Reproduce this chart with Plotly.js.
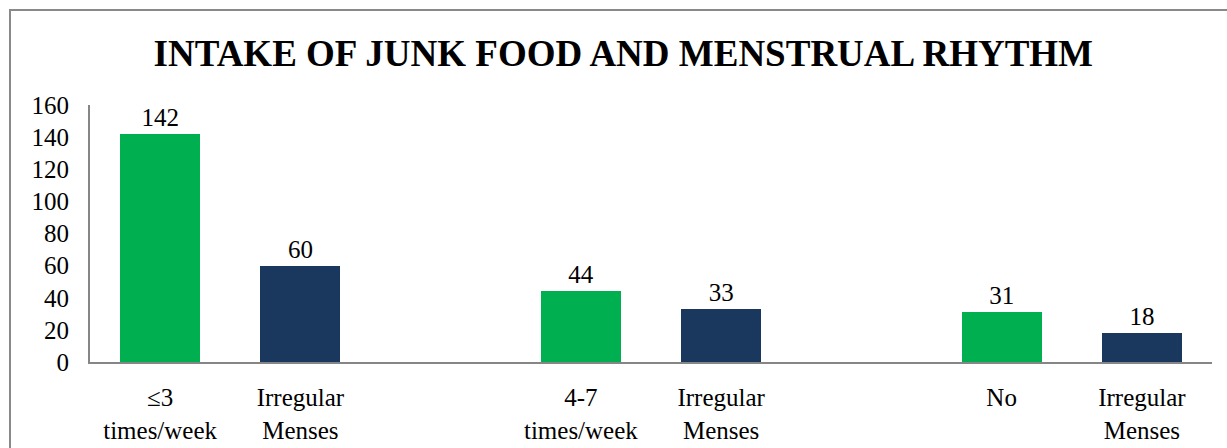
<!DOCTYPE html>
<html>
<head>
<meta charset="utf-8">
<script src="https://cdn.plot.ly/plotly-3.0.1.min.js"></script>
<style>
  html, body { margin: 0; padding: 0; background: #ffffff; }
  #wrap { position: relative; width: 1227px; height: 448px; overflow: hidden; }
  #chart { position: absolute; left: 0; top: 0; width: 1227px; height: 448px; }
  #frame { position: absolute; left: 9px; top: 9px; width: 1230px; height: 450px;
           border-left: 2px solid #898989; border-top: 2px solid #898989; pointer-events: none; }
</style>
</head>
<body>
<div id="wrap">
  <div id="chart"></div>
  <div id="frame"></div>
</div>
<script>
// Data
const groupLabels = ['≤3<br>times/week', '4-7<br>times/week', 'No'];
const irregularLabel = 'Irregular<br>Menses';
const intakeCounts = [142, 44, 31];
const irregularCounts = [60, 33, 18];

const GREEN = '#00B050';
const NAVY = '#1A375E';
const FONT = 'Liberation Serif';

// each group occupies 3 slots: intake bar, irregular bar, empty gap
const intakeX = groupLabels.map((_, i) => i * 3);
const irregX = groupLabels.map((_, i) => i * 3 + 1);

const tickvals = [];
const ticktext = [];
groupLabels.forEach((g, i) => {
  tickvals.push(intakeX[i], irregX[i]);
  ticktext.push(g, irregularLabel);
});

const common = {
  type: 'bar',
  width: 0.57,
  textposition: 'outside',
  cliponaxis: false,
  textfont: { family: FONT, size: 25, color: '#000000' },
  hoverinfo: 'skip',
  showlegend: false
};

const traces = [
  Object.assign({}, common, {
    x: intakeX, y: intakeCounts, text: intakeCounts.map(String),
    marker: { color: GREEN }
  }),
  Object.assign({}, common, {
    x: irregX, y: irregularCounts, text: irregularCounts.map(String),
    marker: { color: NAVY }
  })
];

const layout = {
  width: 1227,
  height: 448,
  margin: { l: 90, r: 15, t: 105, b: 86, pad: 0 },
  paper_bgcolor: 'rgba(0,0,0,0)',
  plot_bgcolor: 'rgba(0,0,0,0)',
  font: { family: FONT, color: '#000000', size: 25 },
  title: {
    text: '<b>INTAKE OF JUNK FOOD AND MENSTRUAL RHYTHM</b>',
    font: { family: FONT, size: 37, color: '#000000' },
    x: 0.508, xref: 'container', xanchor: 'center',
    y: 1 - 53 / 448, yref: 'container', yanchor: 'middle'
  },
  xaxis: {
    range: [-0.5, 7.5],
    tickvals: tickvals,
    ticktext: ticktext,
    showgrid: false,
    zeroline: false,
    showline: true,
    linecolor: '#868686',
    linewidth: 2,
    ticks: '',
    ticklabelstandoff: 12,
    tickfont: { family: FONT, size: 25, color: '#000000' },
    fixedrange: true
  },
  yaxis: {
    range: [0, 160],
    tickvals: [0, 20, 40, 60, 80, 100, 120, 140, 160],
    showgrid: false,
    zeroline: false,
    showline: true,
    linecolor: '#868686',
    linewidth: 2,
    ticks: '',
    ticklabelstandoff: 14,
    tickfont: { family: FONT, size: 25, color: '#000000' },
    fixedrange: true
  },
  bargap: 0
};

Plotly.newPlot('chart', traces, layout, { staticPlot: true, displayModeBar: false });
</script>
</body>
</html>
